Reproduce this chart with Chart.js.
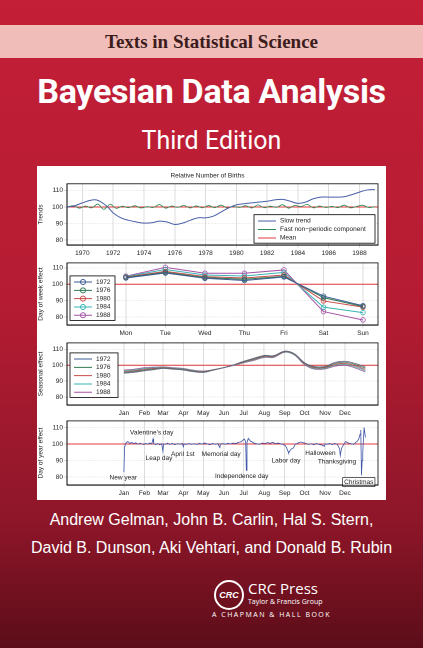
<!DOCTYPE html>
<html>
<head>
<meta charset="utf-8">
<script src="https://cdn.jsdelivr.net/npm/chart.js@4"></script>
<style>
  body { margin:0; width:423px; height:648px; overflow:hidden;
    background: linear-gradient(#c31f37 0px, #b51c33 300px, #8e1629 520px, #5c0d19 648px);
    font-family: "Liberation Sans", Arial, sans-serif; position:relative; }
  .band { position:absolute; left:0; top:25px; width:423px; height:33px; background:#f0bdb8;
    text-align:center; font:bold 19px "Liberation Serif", serif; line-height:33px; color:#3b1c1c; }
  .title { position:absolute; left:0; width:423px; text-align:center; color:#fff; }
  .panel { position:absolute; left:37px; top:166px; width:349px; height:334px; background:#fff; }
  canvas { position:absolute; left:0; }
  .auth { position:absolute; left:0; width:423px; text-align:center; color:#fff; font-size:16px; }
</style>
</head>
<body>
<div class="band">Texts in Statistical Science</div>
<div class="title" style="top:71px;font:bold 34px 'Roboto','Liberation Sans',sans-serif;letter-spacing:-0.3px">Bayesian Data Analysis</div>
<div class="title" style="top:126px;font:25px 'Roboto','Liberation Sans',sans-serif">Third Edition</div>
<div class="panel">
  <div style="position:relative;width:349px;height:334px">
    <canvas id="c1" style="top:4px"></canvas>
    <canvas id="c2" style="top:92px"></canvas>
    <canvas id="c3" style="top:172px"></canvas>
    <canvas id="c4" style="top:250px"></canvas>
  </div>
</div>
<div class="auth" style="top:511px">Andrew Gelman, John B. Carlin, Hal S. Stern,</div>
<div class="auth" style="top:539px">David B. Dunson, Aki Vehtari, and Donald B. Rubin</div>
<div style="position:absolute;left:214px;top:580px;width:26px;height:26px;border-radius:50%;border:2px solid #fff;color:#fff;font:bold italic 9px sans-serif;line-height:26px;text-align:center">CRC</div>
<div style="position:absolute;left:248px;top:578px;color:#fff;font:15px 'Open Sans',sans-serif">CRC Press</div>
<div style="position:absolute;left:248px;top:597px;color:#fff;font:7px 'Open Sans',sans-serif">Taylor &amp; Francis Group</div>
<div style="position:absolute;left:212px;top:610px;color:#fff;font:7px 'Open Sans',sans-serif;letter-spacing:1.5px">A CHAPMAN &amp; HALL BOOK</div>

<script>
// panel 1: trends
const trendYears = [1969,1969.5,1970,1970.5,1970.9,1971.3,1971.7,1972,1972.5,1973,1973.5,1974,1974.5,1975,1975.5,1976,1976.5,1977,1977.5,1978,1978.5,1979,1979.5,1980,1980.5,1981,1981.5,1982,1982.5,1983,1983.5,1984,1984.5,1985,1985.5,1986,1986.5,1987,1987.5,1988,1988.5,1989];
const slowTrend = [100,100.8,102.5,104,104.3,102.5,99.5,96.5,93.5,92,91,90.3,90.5,91.5,91,89.5,90.3,92,93.5,93.5,94.5,97,99.5,101.3,102,102.5,103,103.5,104.3,104.6,103.5,102.2,103,105,106,106,106,106.2,107.5,109,110.3,110.5];
const fastYears = [1969,1969.4,1969.8,1970.2,1970.6,1971,1971.4,1971.8,1972.2,1972.6,1973,1973.4,1973.8,1974.2,1974.6,1975,1975.4,1975.8,1976.2,1976.6,1977,1977.4,1977.8,1978.2,1978.6,1979,1979.4,1979.8,1980.2,1980.6,1981,1981.4,1981.8,1982.2,1982.6,1983,1983.4,1983.8,1984.2,1984.6,1985,1985.4,1985.8,1986.2,1986.6,1987,1987.4,1987.8,1988.2,1988.6,1989];
const fastComp = [100,100.8,99.3,100.6,99.5,101.8,98.6,101.7,99.2,100.5,99.6,100.8,99.4,100.2,99.7,101.5,99.3,100.6,99.8,101,99.4,100.7,99.5,100.9,99.6,101.2,99.5,100.3,99.7,100.8,99.4,101.3,99.6,100.5,99.8,101.4,99.3,101,100.3,101.6,99.5,100.6,99.7,100.4,99.6,101.2,99.5,100.3,101.1,99.7,100.2];
const yearTicks = [1970,1972,1974,1976,1978,1980,1982,1984,1986,1988];
const level = 100;

// panel 2: day of week
const weekDays = ['Mon','Tue','Wed','Thu','Fri','Sat','Sun'];
const weekYears = ['1972','1976','1980','1984','1988'];
const week1972 = [103.8,106.8,103.6,102.3,104.4,92.7,86.9];
const week1976 = [104,107.2,104,103,104.8,91.8,86.4];
const week1980 = [104.3,107.8,104.6,103.8,105.6,89.8,86];
const week1984 = [104.6,109,105.6,105,107.2,86,82.7];
const week1988 = [104.9,110.3,106.7,106.7,108.7,83.3,78.2];

// panel 3: seasonal effect
const seasonDays = [1,15,32,46,60,75,91,105,121,135,152,166,182,196,213,227,244,258,274,288,305,320,335,350,366];
const season1972 = [95,95.5,96.5,97.2,98,97.5,97,96,95.5,96.8,98.5,100.2,102.5,104.2,106.2,106,108.8,107.4,101.6,99.3,99.3,101.8,102.5,101.2,99];
const season1976 = [95.5,96,97,97.6,98.2,97.8,97.3,96.3,95.8,96.9,98.5,100.1,102.3,103.9,105.9,105.8,108.7,107.2,101.3,98.9,98.9,101.2,101.9,100.5,98.2];
const season1980 = [96,96.5,97.5,98,98.5,98,97.5,96.5,96,97,98.5,100,102,103.5,105.5,105.5,108.5,107,101,98.5,98.5,100.5,101.2,99.8,97.4];
const season1984 = [96.5,97,98,98.4,98.8,98.3,97.8,96.8,96.2,97.1,98.5,99.9,101.7,103.2,105.2,105.2,108.3,106.8,100.7,98.1,98.1,100,100.6,99.1,96.6];
const season1988 = [97,97.5,98.5,98.8,99,98.5,98,97,96.4,97.2,98.5,99.8,101.5,102.9,104.9,104.9,108.1,106.6,100.4,97.7,97.7,99.4,100,98.4,95.8];
const monthNames = ['Jan','Feb','Mar','Apr','May','Jun','Jul','Aug','Sep','Oct','Nov','Dec'];
const monthStarts = [1,32,60,91,121,152,182,213,244,274,305,335];

// panel 4: day of year effect
const yearDays = [1,2,4,7,10,13,16,19,22,25,28,31,34,37,40,43,45,46,49,52,55,58,60,61,64,67,70,74,78,82,86,89,91,92,95,99,103,107,111,115,119,123,127,131,135,139,143,146,147,150,154,158,162,166,170,174,178,181,183,185,186,187,189,192,195,198,202,206,210,214,218,222,226,230,234,238,242,245,247,249,250,252,254,257,260,264,268,272,276,280,284,288,292,296,300,304,305,308,312,316,320,324,327,328,330,333,336,340,344,348,351,354,356,358,359,360,361,362,364,366];
const dayEffect = [83,98,100.5,101.5,100.3,101,100.2,100.8,99.8,100.5,100.1,99.6,100.4,99.8,100.6,100.1,103,100.2,99.6,100.3,99.5,100.2,95.5,100.1,99.8,100.5,99.7,100.3,99.6,100.2,99.8,100.4,98.3,100.1,99.7,100.3,99.8,100.2,99.7,100.4,99.9,100.6,100,99.6,100.3,99.8,100.2,97.8,100,100.3,99.8,100.4,100,100.6,100.2,101,101.3,102.3,103,101.5,84,101,103.4,101.8,101.2,100.4,100.1,99.8,100.6,100.3,100.8,100.4,101,100.2,100.6,100.1,99.6,99,97.5,95.5,94.5,96,97,97.5,99.8,100.6,101.2,100.8,100.4,99.7,100.2,99.5,100.3,99.7,99.4,98.6,100,99.8,100.3,99.6,100.4,99.5,97,93,97.5,99.5,101.5,100.6,100.2,99.7,100.8,101.8,103.2,106,108.5,81,90,95,110,104];
const holidays = [
  {text:'New year', x:0, y:79.4},
  {text:"Valentine's day", x:43, y:106.9},
  {text:'Leap day', x:54, y:91.3},
  {text:'April 1st', x:90, y:93.8},
  {text:'Memorial day', x:148, y:93.8},
  {text:'Independence day', x:179, y:80.6},
  {text:'Labor day', x:246, y:90},
  {text:'Halloween', x:298, y:94.4},
  {text:'Thanksgiving', x:323, y:89.4},
  {text:'Christmas', x:356, y:76.9, box:true}
];
const valueTicks = [80,90,100,110];

const yearColors = ['#3c5a93','#2f7a52','#c94a4a','#38b5b5','#a652a6'];
const FONT = {family:'"Liberation Sans", Arial, sans-serif', size:6.5};
Chart.defaults.color = '#222';
Chart.defaults.font = FONT;
Chart.defaults.animation = false;
Chart.defaults.devicePixelRatio = 2;

function toPts(xs, ys) { return xs.map((x, i) => ({x: x, y: ys[i]})); }

// draws a matlab-style boxed legend
const boxLegend = {
  id: 'boxLegend',
  afterDraw(chart, args, o) {
    if (!o.items) return;
    const ctx = chart.ctx, a = chart.chartArea;
    const x0 = o.right ? a.right - o.w - 3 : a.left + 3;
    const y0 = o.bottom ? a.bottom - o.items.length * o.lh - 5 : a.top + o.top;
    const h = o.items.length * o.lh + 3;
    ctx.save();
    ctx.fillStyle = '#fff'; ctx.strokeStyle = '#000'; ctx.lineWidth = 0.8;
    ctx.fillRect(x0, y0, o.w, h); ctx.strokeRect(x0, y0, o.w, h);
    ctx.font = '6.5px "Liberation Sans", Arial, sans-serif';
    ctx.textBaseline = 'middle';
    o.items.forEach((it, i) => {
      const y = y0 + 2 + o.lh * (i + 0.5);
      ctx.strokeStyle = it.color; ctx.lineWidth = 1;
      ctx.beginPath(); ctx.moveTo(x0 + 4, y); ctx.lineTo(x0 + 22, y); ctx.stroke();
      if (it.marker) { ctx.beginPath(); ctx.arc(x0 + 13, y, 2.5, 0, 7); ctx.stroke(); }
      ctx.fillStyle = '#222'; ctx.fillText(it.label, x0 + 26, y);
    });
    ctx.restore();
  }
};

const notes = {
  id: 'notes',
  afterDatasetsDraw(chart, args, o) {
    if (!o.list) return;
    const ctx = chart.ctx, xs = chart.scales.x, ys = chart.scales.y;
    ctx.save();
    ctx.font = '6.5px "Liberation Sans", Arial, sans-serif';
    ctx.textAlign = 'center'; ctx.textBaseline = 'middle';
    o.list.forEach(n => {
      const px = xs.getPixelForValue(n.x), py = ys.getPixelForValue(n.y);
      if (n.box) {
        const w = ctx.measureText(n.text).width + 3;
        ctx.fillStyle = '#fff'; ctx.fillRect(px - w / 2, py - 4.5, w, 9);
        ctx.strokeStyle = '#000'; ctx.lineWidth = 0.6; ctx.strokeRect(px - w / 2, py - 4.5, w, 9);
      }
      ctx.fillStyle = '#222'; ctx.fillText(n.text, px, py);
    });
    ctx.restore();
  }
};

function yAxis(title, min, max) {
  return {
    min: min, max: max,
    afterBuildTicks: s => { s.ticks = valueTicks.filter(v => v >= min && v <= max).map(v => ({value: v})); },
    afterFit: s => { s.width = 30; },
    title: {display: true, text: title, padding: 0, font: FONT},
    grid: {color: '#bbb', lineWidth: 0.5, tickLength: 3, drawTicks: true},
    border: {color: '#000', dash: [1, 2]},
    ticks: {padding: 1}
  };
}
function xAxis(min, max, tickVals, labelFn) {
  return {
    type: 'linear', min: min, max: max,
    afterBuildTicks: s => { s.ticks = tickVals.map(v => ({value: v})); },
    grid: {color: '#bbb', lineWidth: 0.5, tickLength: 3},
    border: {color: '#000'},
    ticks: {callback: labelFn, maxRotation: 0, autoSkip: false, padding: 1}
  };
}
function frame() {
  return {
    id: 'frame',
    afterDraw(chart) {
      const a = chart.chartArea, ctx = chart.ctx;
      ctx.save(); ctx.strokeStyle = '#000'; ctx.lineWidth = 0.8;
      ctx.strokeRect(a.left, a.top, a.right - a.left, a.bottom - a.top); ctx.restore();
    }
  };
}
function makeChart(id, h, datasets, scales, plugOpts, extra) {
  const cv = document.getElementById(id);
  cv.style.width = '349px'; cv.style.height = h + 'px';
  cv.width = 349; cv.height = h;
  return new Chart(cv, {
    type: 'line',
    data: {datasets: datasets},
    options: Object.assign({
      responsive: false, parsing: false,
      layout: {padding: {right: 8, top: 2, left: 0}},
      elements: {point: {radius: 0}, line: {borderWidth: 1, tension: 0.4}},
      scales: scales,
      plugins: Object.assign({legend: {display: false}, tooltip: {enabled: false}}, plugOpts)
    }, extra || {}),
    plugins: [boxLegend, notes, frame()]
  });
}

const meanLine = (x0, x1) => ({data: [{x: x0, y: level}, {x: x1, y: level}], borderColor: '#e0393d', borderWidth: 1, tension: 0});

makeChart('c1', 88, [
  {data: toPts(trendYears, slowTrend), borderColor: '#4a5fa8'},
  {data: toPts(fastYears, fastComp), borderColor: '#2f8a58', borderWidth: 0.8, tension: 0.3},
  meanLine(1969, 1989.2)
], {
  x: xAxis(1969, 1989.2, yearTicks, v => v),
  y: yAxis('Trends', 77, 114)
}, {
  title: {display: true, text: 'Relative Number of Births', font: Object.assign({}, FONT, {weight: 'normal'}), padding: {top: 0, bottom: 4}},
  boxLegend: {right: true, bottom: true, w: 121, lh: 8.5, items: [
    {label: 'Slow trend', color: '#4a5fa8'},
    {label: 'Fast non\u2212periodic component', color: '#2f8a58'},
    {label: 'Mean', color: '#e0393d'}]}
});

const weekSets = [week1972, week1976, week1980, week1984, week1988].map((arr, i) => ({
  data: arr.map((v, d) => ({x: d + 1, y: v})), borderColor: yearColors[i], tension: 0,
  pointRadius: 2.3, pointStyle: 'circle', pointBorderColor: yearColors[i], pointBackgroundColor: 'transparent', pointBorderWidth: 0.8
}));
makeChart('c2', 80, weekSets.concat([meanLine(-0.5, 7.4)]), {
  x: xAxis(-0.49, 7.38, [1, 2, 3, 4, 5, 6, 7], v => weekDays[v - 1]),
  y: yAxis('Day of week effect', 75, 113)
}, {
  boxLegend: {top: 13, w: 45, lh: 8.3, items: weekYears.map((y, i) => ({label: y, color: yearColors[i], marker: true}))}
});

const seasonSets = [season1972, season1976, season1980, season1984, season1988].map((arr, i) => ({
  data: toPts(seasonDays, arr), borderColor: ['#666a84','#4f7360','#b35454','#58a7a7','#94609a'][i], borderWidth: 0.8
}));
makeChart('c3', 80, seasonSets.concat([meanLine(-85, 385)]), {
  x: xAxis(-85, 385, monthStarts, v => monthNames[monthStarts.indexOf(v)]),
  y: yAxis('Seasonal effect', 75, 114)
}, {
  boxLegend: {top: 10, w: 48, lh: 8.3, items: weekYears.map((y, i) => ({label: y, color: yearColors[i]}))}
});

makeChart('c4', 82, [
  {data: toPts(yearDays, dayEffect), borderColor: '#3f55a8', borderWidth: 0.8, tension: 0},
  meanLine(-85, 385)
], {
  x: xAxis(-85, 385, monthStarts, v => monthNames[monthStarts.indexOf(v)]),
  y: yAxis('Day of year effect', 75, 114)
}, {
  notes: {list: holidays}
});
</script>
</body>
</html>
